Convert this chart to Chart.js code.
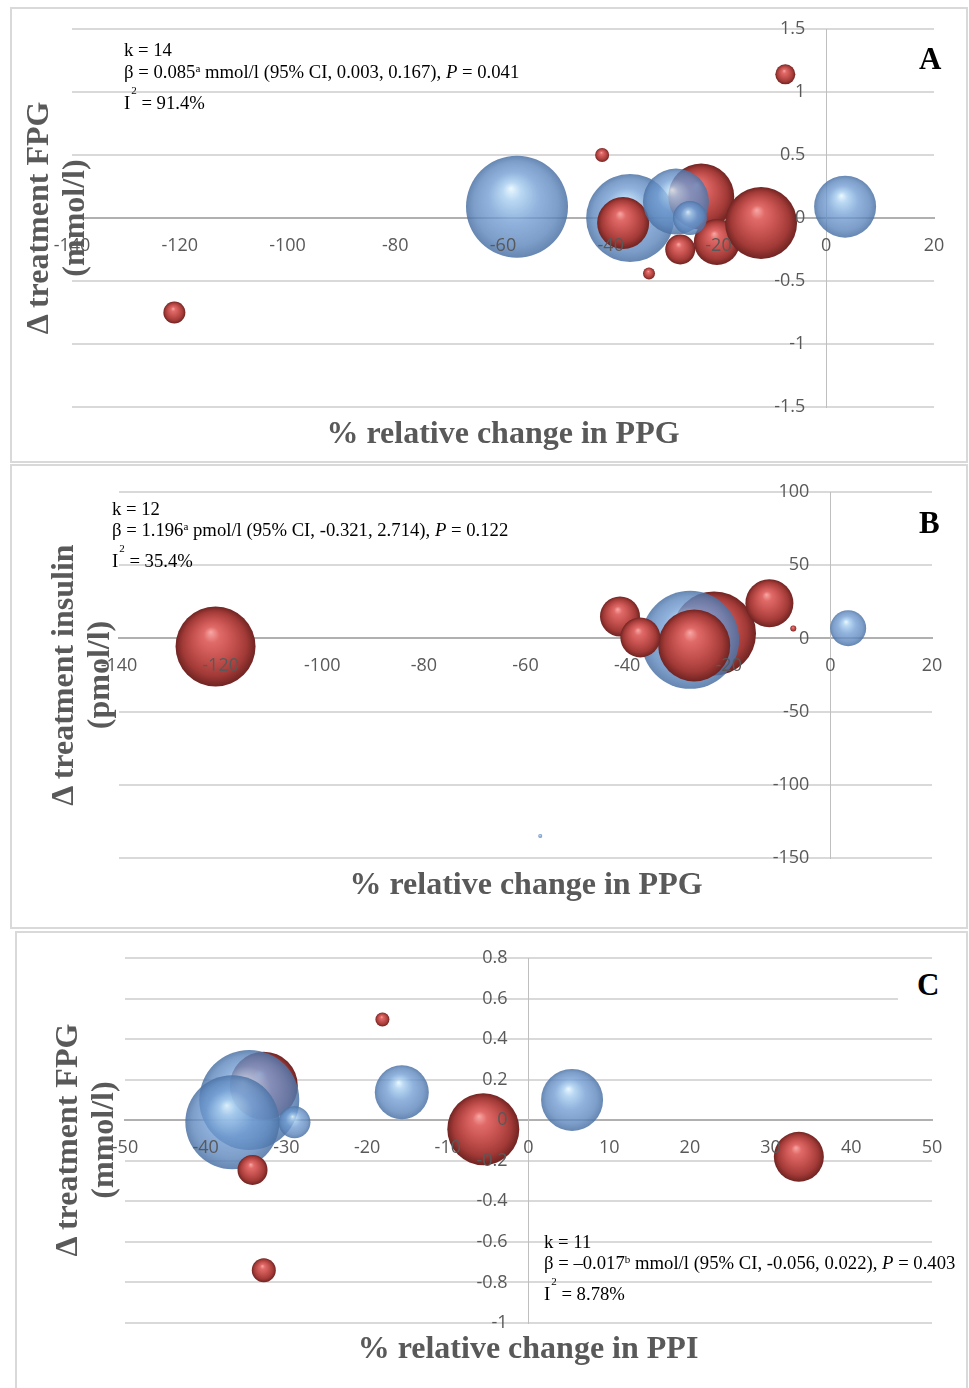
<!DOCTYPE html>
<html>
<head>
<meta charset="utf-8">
<script src="https://cdn.jsdelivr.net/npm/chart.js@4.4.1/dist/chart.umd.min.js"></script>
<style>
  body { margin: 0; background: #fff; }
  #page { position: relative; width: 969px; height: 1388px; overflow: hidden; background: #fff; }
  .panel { position: absolute; border: 2px solid #d9d9d9; box-sizing: border-box; }
  canvas { position: absolute; left: -60px; top: -60px; }
  .xtitle { position: absolute; width: 700px; text-align: center; font: bold 32px "Liberation Serif", serif; color: #595959; line-height: 36px; white-space: nowrap; }
  .ytitle { position: absolute; width: 400px; height: 72px; text-align: center; font: bold 32px "Liberation Serif", serif; color: #595959; line-height: 36px; transform: rotate(-90deg); white-space: nowrap; }
  .ann { position: absolute; font: 18.7px "Liberation Serif", serif; color: #000; line-height: 22px; white-space: nowrap; }
  .ann sup { font-size: 11px; line-height: 0; vertical-align: 6px; }
  .sq { position: relative; font-size: 11px; top: -15px; margin-left: 1px; }
  .letter { position: absolute; font: bold 31px "Liberation Serif", serif; color: #000; line-height: 34px; }
</style>
</head>
<body>
<div id="page">
  <div class="panel" style="left:10px;top:7px;width:958px;height:456px;"></div>
  <div class="panel" style="left:10px;top:464px;width:958px;height:465px;"></div>
  <div class="panel" style="left:15px;top:931px;width:953px;height:470px;"></div>

  <canvas id="cA" width="1089" height="1508"></canvas>
  <canvas id="cB" width="1089" height="1508"></canvas>
  <canvas id="cC" width="1089" height="1508"></canvas>

  <!-- Panel A texts -->
  <div class="ann" style="left:124px;top:39px;">k = 14</div>
  <div class="ann" style="left:124px;top:61px;">β = 0.085<sup>a</sup> mmol/l (95% CI, 0.003, 0.167), <i>P</i> = 0.041</div>
  <div class="ann" style="left:124px;top:92px;">I<span class="sq">2</span> = 91.4%</div>
  <div class="letter" style="left:919px;top:42px;">A</div>
  <div class="xtitle" style="left:153px;top:414px;">% relative change in PPG</div>
  <div class="ytitle" style="left:-145px;top:182px;">Δ treatment FPG<br>(mmol/l)</div>

  <!-- Panel B texts -->
  <div class="ann" style="left:112px;top:498px;">k = 12</div>
  <div class="ann" style="left:112px;top:519px;">β = 1.196<sup>a</sup> pmol/l (95% CI, -0.321, 2.714), <i>P</i> = 0.122</div>
  <div class="ann" style="left:112px;top:550px;">I<span class="sq">2</span> = 35.4%</div>
  <div class="letter" style="left:919px;top:506px;">B</div>
  <div class="xtitle" style="left:176px;top:865px;">% relative change in PPG</div>
  <div class="ytitle" style="left:-120px;top:639px;">Δ treatment insulin<br>(pmol/l)</div>

  <!-- Panel C texts -->
  <div style="position:absolute;left:898px;top:966px;width:60px;height:40px;background:#fff;"></div>
  <div class="ann" style="left:544px;top:1231px;">k = 11</div>
  <div class="ann" style="left:544px;top:1252px;">β = –0.017<sup>b</sup> mmol/l (95% CI, -0.056, 0.022), <i>P</i> = 0.403</div>
  <div class="ann" style="left:544px;top:1283px;">I<span class="sq">2</span> = 8.78%</div>
  <div class="letter" style="left:917px;top:968px;">C</div>
  <div class="xtitle" style="left:178px;top:1329px;">% relative change in PPI</div>
  <div class="ytitle" style="left:-116px;top:1104px;">Δ treatment FPG<br>(mmol/l)</div>
</div>

<script>
// ---------- Panel A: Δ FPG vs % change in PPG (listed back to front) ----------
const aGroup = ['blue','blue','red','red','red','blue','blue','red','red','blue','red','red','red','red'];
const aX     = [-57.4, -36.4, -37.7, -23.2, -20.3, -27.9, -25.3, -27.1, -12.1, 3.5, -121, -7.6, -41.6, -32.9];
const aY     = [0.09, 0.0, -0.04, 0.17, -0.19, 0.13, 0.0, -0.25, -0.04, 0.09, -0.75, 1.14, 0.5, -0.44];
const aSize  = [51, 44, 26, 33, 23, 33, 17, 15, 36, 31, 11, 10, 7, 6];
const aXTicks = [-140, -120, -100, -80, -60, -40, -20, 0, 20];
const aYTicks = [-1.5, -1, -0.5, 0, 0.5, 1, 1.5];

// ---------- Panel B: Δ insulin vs % change in PPG ----------
const bGroup = ['red','blue','red','red','red','red','red','blue','blue','red'];
const bX     = [-22.9, -27.6, -26.8, -41.4, -37.4, -12, -7.3, 3.5, -57.1, -121];
const bY     = [3.4, -1, -4.8, 15, 0.7, 24, 6.8, 7, -135, -5.5];
const bSize  = [42, 49, 36, 20, 20, 24, 3, 18, 2, 40];
const bXTicks = [-140, -120, -100, -80, -60, -40, -20, 0, 20];
const bYTicks = [-150, -100, -50, 0, 50, 100];

// ---------- Panel C: Δ FPG vs % change in PPI ----------
const cGroup = ['red','blue','blue','blue','red','red','red','blue','red','blue','red'];
const cX     = [-32.8, -34.6, -36.7, -29, -34.2, -32.8, -18.1, -15.7, -5.6, 5.4, 33.5];
const cY     = [0.17, 0.10, -0.01, -0.01, -0.245, -0.74, 0.497, 0.138, -0.044, 0.10, -0.18];
const cSize  = [34, 50, 47, 16, 15, 12, 7, 27, 36, 31, 25];
const cXTicks = [-50, -40, -30, -20, -10, 0, 10, 20, 30, 40, 50];
const cYTicks = [-1, -0.8, -0.6, -0.4, -0.2, 0, 0.2, 0.4, 0.6, 0.8];

const PALETTE = {
  red:  { flat: '#c0504d', stops: [[0,'rgba(248,168,166,1)'],[0.2,'rgba(224,106,103,1)'],[0.5,'rgba(198,82,79,1)'],[0.8,'rgba(162,58,55,1)'],[1,'rgba(112,36,34,1)']] },
  blue: { flat: '#6f9fd6', stops: [[0,'rgba(232,248,255,0.85)'],[0.18,'rgba(168,206,240,0.8)'],[0.5,'rgba(112,156,210,0.78)'],[0.82,'rgba(92,134,188,0.8)'],[1,'rgba(76,114,164,0.85)']] }
};

function shade(ctx, groups) {
  const g = groups[ctx.dataIndex] || 'red';
  const chart = ctx.chart;
  if (ctx.type !== 'data' || !chart.chartArea || !ctx.raw) return PALETTE[g].flat;
  const cx = chart.scales.x.getPixelForValue(ctx.raw.x);
  const cy = chart.scales.y.getPixelForValue(ctx.raw.y);
  const r = Math.max(ctx.raw.r, 1);
  const grad = chart.ctx.createRadialGradient(cx - 0.12 * r, cy - 0.36 * r, 0, cx, cy, r);
  PALETTE[g].stops.forEach(s => grad.addColorStop(s[0], s[1]));
  return grad;
}

const tickFont = { family: '"Open Sans", "DejaVu Sans", sans-serif', size: 18 };
const M = 60; // canvas margin around the page

function buildChart(id, xs, ys, sizes, groups, xTicks, yTicks, area) {
  const canvas = document.getElementById(id);
  const W = canvas.width, H = canvas.height;
  const target = { left: area.left + M, top: area.top + M, right: area.right + M, bottom: area.bottom + M };
  const pad = { left: target.left, top: target.top, right: W - target.right, bottom: H - target.bottom };
  const points = xs.map((x, i) => ({ x: x, y: ys[i], r: sizes[i] }));
  const xMin = xTicks[0], xMax = xTicks[xTicks.length - 1];
  const yMin = yTicks[0], yMax = yTicks[yTicks.length - 1];
  const setX = s => { s.ticks = xTicks.map(v => ({ value: v })); };
  const setY = s => { s.ticks = yTicks.map(v => ({ value: v })); };
  const chart = new Chart(canvas, {
    type: 'bubble',
    data: { datasets: [{ data: points, backgroundColor: c => shade(c, groups), borderWidth: 0, hoverRadius: 0, hoverBorderWidth: 0, clip: false }] },
    options: {
      responsive: false, animation: false, events: [],
      layout: { padding: Object.assign({}, pad) },
      plugins: { legend: { display: false }, tooltip: { enabled: false } },
      scales: {
        x: { type: 'linear', min: xMin, max: xMax, position: { y: 0 },
             grid: { display: false, drawTicks: false },
             border: { display: true, color: '#b0b0b0', width: 2 },
             ticks: { display: false }, afterBuildTicks: setX },
        y: { type: 'linear', min: yMin, max: yMax, position: { x: 0 },
             grid: { display: true, color: '#d9d9d9', lineWidth: 2, drawTicks: false },
             border: { display: true, color: '#bfbfbf', width: 1 },
             ticks: { display: false }, afterBuildTicks: setY },
        xt: { type: 'linear', axis: 'x', min: xMin, max: xMax, position: { y: 0 },
              grid: { display: false, drawTicks: false }, border: { display: false },
              ticks: { z: 1, autoSkip: false, maxRotation: 0, padding: 17, color: '#595959', font: tickFont, callback: v => String(v) },
              afterBuildTicks: setX },
        yt: { type: 'linear', axis: 'y', min: yMin, max: yMax, position: { x: 0 },
              grid: { display: false, drawTicks: false }, border: { display: false },
              ticks: { z: 1, autoSkip: false, padding: 0, color: '#595959', font: tickFont, callback: v => String(v) + '\u2003\u2009' },
              afterBuildTicks: setY }
      }
    }
  });
  // nudge the layout padding until the plot area sits where the reference plot area is
  for (let i = 0; i < 5; i++) {
    const ca = chart.chartArea;
    const dl = target.left - ca.left, dt = target.top - ca.top;
    const dr = ca.right - target.right, db = ca.bottom - target.bottom;
    if (Math.abs(dl) < 0.5 && Math.abs(dt) < 0.5 && Math.abs(dr) < 0.5 && Math.abs(db) < 0.5) break;
    pad.left += dl; pad.top += dt; pad.right += dr; pad.bottom += db;
    chart.options.layout.padding = Object.assign({}, pad);
    chart.update('none');
  }
  return chart;
}

buildChart('cA', aX, aY, aSize, aGroup, aXTicks, aYTicks, { left: 72, top: 29, right: 934, bottom: 407 });
buildChart('cB', bX, bY, bSize, bGroup, bXTicks, bYTicks, { left: 119, top: 492, right: 932, bottom: 858 });
buildChart('cC', cX, cY, cSize, cGroup, cXTicks, cYTicks, { left: 125, top: 958, right: 932, bottom: 1323 });
</script>
</body>
</html>
